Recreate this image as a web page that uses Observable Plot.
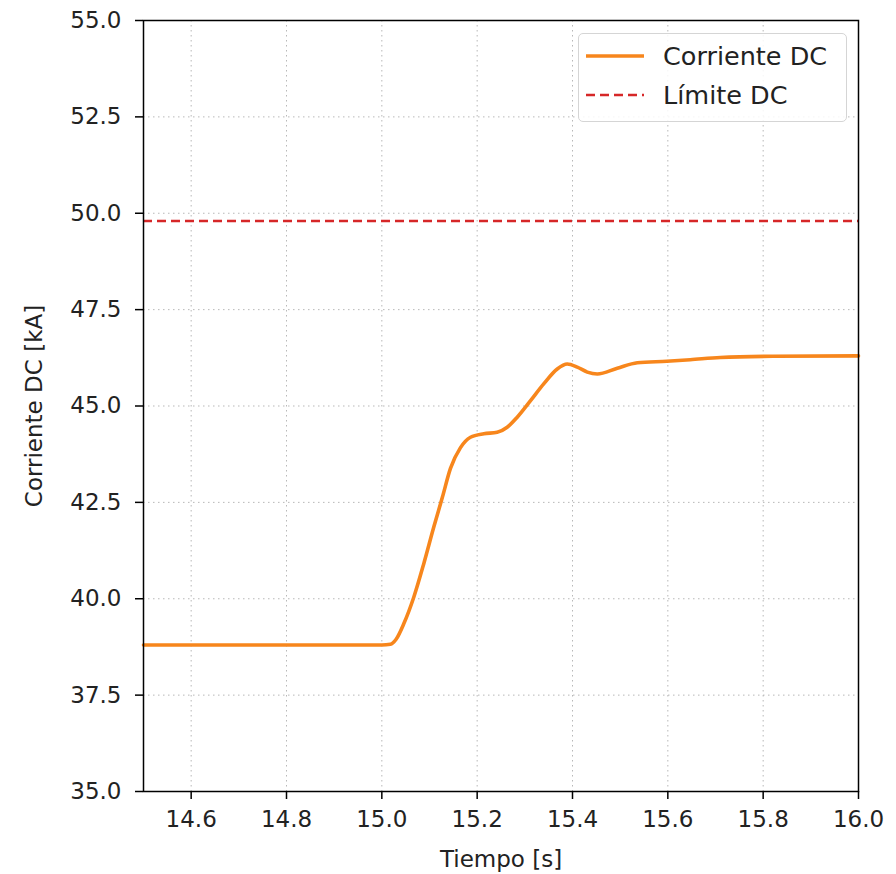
<!DOCTYPE html>
<html>
<head>
<meta charset="utf-8">
<script src="https://cdn.jsdelivr.net/npm/d3@7"></script>
<script src="https://cdn.jsdelivr.net/npm/@observablehq/plot@0.6"></script>
<style>
  html, body { margin: 0; padding: 0; background: #fff; }
  #wrap { position: relative; width: 896px; height: 874px; }
  #legend {
    position: absolute; left: 578px; top: 33px; width: 267px; height: 87px;
    border: 1.5px solid #d5d5d5; border-radius: 5px; background: rgba(255,255,255,0.85);
    font-family: "DejaVu Sans", sans-serif; font-size: 25.5px; color: #222;
  }
  .item { position: absolute; left: 0; height: 30px; display: flex; align-items: center; white-space: nowrap; }
  .item svg { margin-left: 7px; margin-right: 19px; }
</style>
</head>
<body>
<div id="wrap">
  <div id="chart"></div>
  <div id="legend"></div>
</div>
<script>
// Data
const tiempo = [14.5, 15.0, 15.018, 15.03, 15.046, 15.067, 15.088, 15.109, 15.127, 15.144, 15.165, 15.186, 15.214, 15.242, 15.263, 15.284, 15.312, 15.340, 15.368, 15.389, 15.410, 15.431, 15.452, 15.494, 15.536, 15.598, 15.647, 15.71, 15.82, 16.0];
const corriente = [38.8, 38.8, 38.82, 38.95, 39.35, 40.04, 40.91, 41.86, 42.63, 43.38, 43.92, 44.19, 44.28, 44.32, 44.45, 44.71, 45.14, 45.58, 45.96, 46.09, 46.01, 45.88, 45.83, 45.98, 46.12, 46.16, 46.2, 46.26, 46.29, 46.3];
const limiteDC = 49.8;
const xTicks = [14.6, 14.8, 15.0, 15.2, 15.4, 15.6, 15.8, 16.0];
const yTicks = [35.0, 37.5, 40.0, 42.5, 45.0, 47.5, 50.0, 52.5, 55.0];
const seriesNames = ["Corriente DC", "Límite DC"];
const colorCorriente = "#f7861c";
const colorLimite = "#d62728";

const data = tiempo.map((t, i) => ({t, v: corriente[i]}));

const fontFamily = "DejaVu Sans, sans-serif";

const chart = Plot.plot({
  width: 896,
  height: 874,
  marginLeft: 143,
  marginRight: 38,
  marginTop: 20,
  marginBottom: 83,
  style: { fontFamily, fontSize: "23px", color: "#222", background: "#fff" },
  x: { domain: [14.5, 16.0] },
  y: { domain: [35, 55] },
  marks: [
    Plot.gridX(xTicks, { stroke: "#b0b0b0", strokeOpacity: 0.9, strokeWidth: 1, strokeDasharray: "1.5,3.5" }),
    Plot.gridY(yTicks, { stroke: "#b0b0b0", strokeOpacity: 0.9, strokeWidth: 1, strokeDasharray: "1.5,3.5" }),
    Plot.ruleY([limiteDC], { stroke: colorLimite, strokeWidth: 2.6, strokeDasharray: "9,5" }),
    Plot.line(data, { x: "t", y: "v", stroke: colorCorriente, strokeWidth: 3.6, curve: "monotone-x" }),
    Plot.frame({ stroke: "#000", strokeWidth: 1.5 }),
    Plot.axisX(xTicks, { tickSize: 8, tickPadding: 11, tickFormat: d3.format(".1f"), stroke: "#000", strokeWidth: 1.5,
      label: "Tiempo [s]", labelAnchor: "center", labelOffset: 75, labelArrow: "none", fontSize: 23 }),
    Plot.axisY(yTicks, { tickSize: 8, tickPadding: 14, tickFormat: d3.format(".1f"), stroke: "#000", strokeWidth: 1.5,
      label: "Corriente DC [kA]", labelAnchor: "center", labelOffset: 118, labelArrow: "none", fontSize: 23 })
  ]
});
document.getElementById("chart").appendChild(chart);

// Legend
const legend = document.getElementById("legend");
const styles = [
  { color: colorCorriente, width: 3.6, dash: null, top: 7 },
  { color: colorLimite, width: 2.6, dash: "9,5", top: 46 }
];
seriesNames.forEach((name, i) => {
  const s = styles[i];
  const item = document.createElement("div");
  item.className = "item";
  item.style.top = s.top + "px";
  item.innerHTML = `<svg width="58" height="10"><line x1="0" x2="58" y1="5" y2="5" stroke="${s.color}" stroke-width="${s.width}" ${s.dash ? `stroke-dasharray="${s.dash}"` : ""}/></svg><span>${name}</span>`;
  legend.appendChild(item);
});
</script>
</body>
</html>
